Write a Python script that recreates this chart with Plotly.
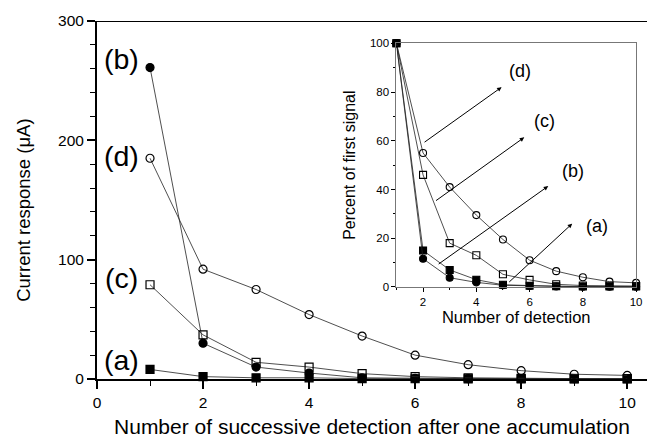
import plotly.graph_objects as go

# ---- data ----
detect_n = [1, 2, 3, 4, 5, 6, 7, 8, 9, 10]

main_a = [8, 2, 1, 1, 0.3, 0.2, 0.1, 0.1, 0.1, 0.1]
main_b = [261, 30, 10, 5, 1, 0.5, 0.3, 0.2, 0.2, 0.2]
main_c = [79, 37, 14, 10, 4.5, 2, 1, 0.5, 0.3, 0.3]
main_d = [185, 92, 75, 54, 36, 20, 12, 7, 4, 3]

pct_a = [100, 15, 7, 3, 0.9, 0.5, 0.3, 0.2, 0.2, 0.2]
pct_b = [100, 11.6, 3.8, 1.9, 0.7, 0.4, 0.2, 0.1, 0.1, 0.1]
pct_c = [100, 46, 18, 13, 5.2, 2.9, 1.1, 0.6, 0.5, 0.4]
pct_d = [100, 55, 41, 29.5, 19.5, 11, 6.5, 4, 2.2, 1.7]

series_labels = ["(a)", "(b)", "(c)", "(d)"]
main_label_pos = [(0.46, 16), (0.46, 268), (0.46, 85), (0.46, 187)]
inset_arrow_tail = [(5.18, 1.5), (2.53, 9.0), (2.43, 35), (2.0, 59)]
inset_arrow_head = [(7.6, 26), (6.7, 41.4), (5.8, 61.4), (4.95, 82)]
inset_label_pos = [(8.54, 25), (7.62, 47.5), (6.57, 68), (5.64, 88.5)]

FONT = "Liberation Sans, Arial, sans-serif"
symbols = ["square", "circle", "square-open", "circle-open"]
LINE = dict(color="#222", width=0.8)

fig = go.Figure()

for vals, sym in zip([main_a, main_b, main_c, main_d], symbols):
    fig.add_trace(go.Scatter(
        x=detect_n, y=vals, mode="lines+markers", line=LINE,
        marker=dict(symbol=sym, size=8, color="black",
                    line=dict(color="black", width=1.2)),
        cliponaxis=False, xaxis="x", yaxis="y", showlegend=False))

for vals, sym in zip([pct_a, pct_b, pct_c, pct_d], symbols):
    fig.add_trace(go.Scatter(
        x=detect_n, y=vals, mode="lines+markers", line=LINE,
        marker=dict(symbol=sym, size=7, color="black",
                    line=dict(color="black", width=1.1)),
        cliponaxis=False, xaxis="x2", yaxis="y2", showlegend=False))

ann = []
for lab, (x, y) in zip(series_labels, main_label_pos):
    ann.append(dict(x=x, y=y, xref="x", yref="y", text=lab, showarrow=False,
                    font=dict(size=28.5, family=FONT, color="black")))
for lab, (x, y) in zip(series_labels, inset_label_pos):
    ann.append(dict(x=x, y=y, xref="x2", yref="y2", text=lab, showarrow=False,
                    font=dict(size=18, family=FONT, color="black")))
for (tx, ty), (hx, hy) in zip(inset_arrow_tail, inset_arrow_head):
    ann.append(dict(x=hx, y=hy, ax=tx, ay=ty, xref="x2", yref="y2",
                    axref="x2", ayref="y2", text="", showarrow=True,
                    arrowhead=2, arrowsize=0.9, arrowwidth=1, arrowcolor="black"))
# main y-axis title
ann.append(dict(x=-0.1349, y=0.472, xref="paper", yref="paper",
                xanchor="center", yanchor="middle",
                text="Current response (μA)", textangle=-90, showarrow=False,
                font=dict(size=18.5, family=FONT, color="black")))

fig.update_layout(
    width=653, height=439,
    margin=dict(l=97, r=0, t=21, b=60),
    paper_bgcolor="white", plot_bgcolor="white",
    font=dict(family=FONT, color="black"),
    annotations=ann,
    shapes=[dict(type="line", xref="paper", yref="y", x0=0, x1=1, y0=300, y1=300,
                 line=dict(color="black", width=2))],
    xaxis=dict(range=[0, 10.373], showgrid=False, zeroline=False,
               showline=True, linecolor="black", linewidth=2,
               ticks="outside", ticklen=8, tickwidth=1.5, tickcolor="black",
               dtick=2, tick0=0,
               minor=dict(dtick=1, tick0=0, ticks="outside", ticklen=5,
                          tickcolor="black", tickwidth=1.2),
               tickfont=dict(size=15.5),
               title=dict(text="Number of successive detection after one accumulation",
                          font=dict(size=21), standoff=10)),
    yaxis=dict(range=[0, 300], showgrid=False, zeroline=False,
               showline=True, linecolor="black", linewidth=2,
               ticks="outside", ticklen=8, tickwidth=1.5, tickcolor="black",
               dtick=100, tick0=0,
               minor=dict(dtick=20, tick0=0, ticks="outside", ticklen=5,
                          tickcolor="black", tickwidth=1.2),
               tickfont=dict(size=15.5)),
    xaxis2=dict(domain=[0.5444, 0.9802], anchor="y2", range=[1, 10],
                showgrid=False, zeroline=False, showline=True, mirror=True,
                linecolor="#777", linewidth=1,
                ticks="outside", ticklen=4, tickcolor="black", tickwidth=1,
                dtick=2, tick0=0,
                minor=dict(dtick=1, tick0=0, ticks="outside", ticklen=2,
                           tickcolor="black"),
                tickfont=dict(size=11.5),
                title=dict(text="Number of detection", font=dict(size=16.5),
                           standoff=4)),
    yaxis2=dict(domain=[0.257, 0.9377], anchor="x2", range=[0, 100],
                showgrid=False, zeroline=False, showline=True, mirror=True,
                linecolor="#777", linewidth=1,
                ticks="outside", ticklen=4, tickcolor="black", tickwidth=1,
                dtick=20, tick0=0,
                minor=dict(dtick=10, tick0=0, ticks="outside", ticklen=2,
                           tickcolor="black"),
                tickfont=dict(size=11.5),
                title=dict(text="Percent of first signal", font=dict(size=16),
                           standoff=10)),
)

fig.write_html("out.html")
